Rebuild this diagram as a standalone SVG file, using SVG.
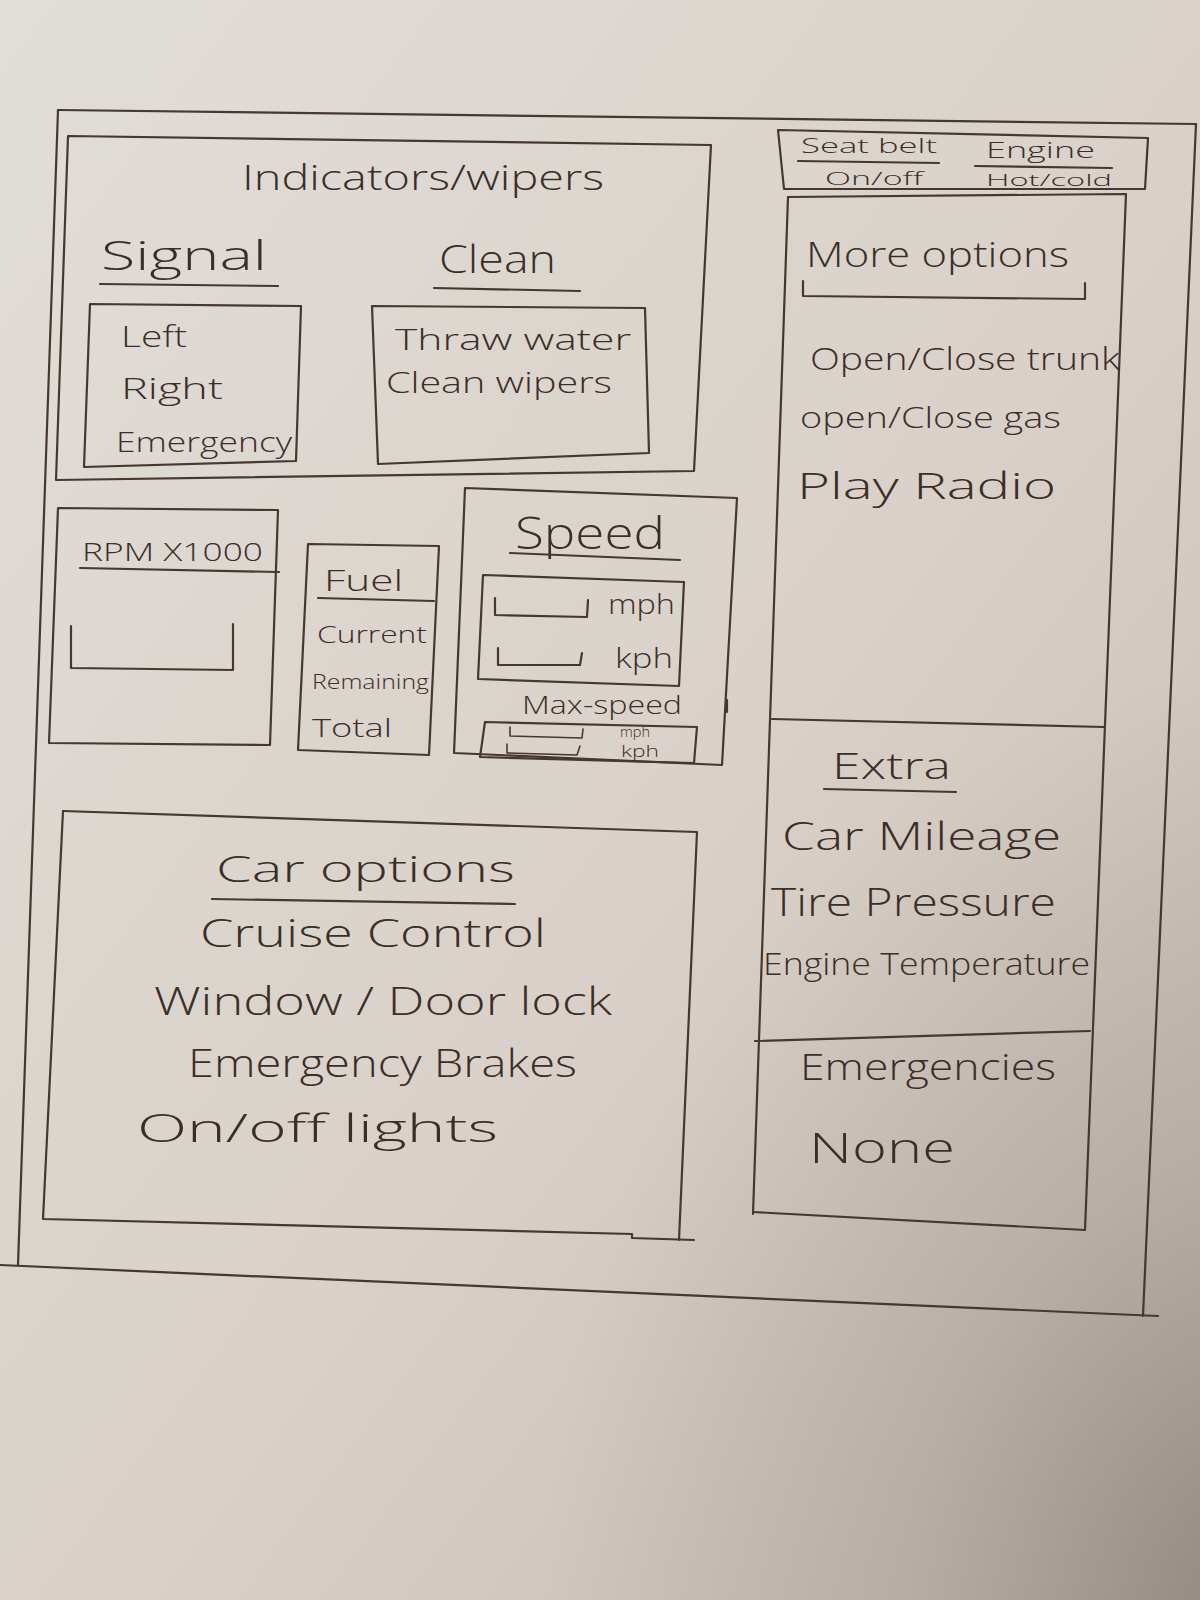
<svg xmlns="http://www.w3.org/2000/svg" width="1200" height="1600" viewBox="0 0 1200 1600">
  <defs>
    <linearGradient id="paper" x1="0" y1="0" x2="1" y2="1">
      <stop offset="0" stop-color="#e1ddd8"/>
      <stop offset="0.55" stop-color="#d9d1c9"/>
      <stop offset="1" stop-color="#c2b7ad"/>
    </linearGradient>
    <radialGradient id="shade" cx="1.05" cy="1.02" r="0.6">
      <stop offset="0" stop-color="#7f756d" stop-opacity="0.75"/>
      <stop offset="0.5" stop-color="#8f857c" stop-opacity="0.3"/>
      <stop offset="1" stop-color="#8f857c" stop-opacity="0"/>
    </radialGradient>
    <style>
      .ink { fill: none; stroke: #46372f; stroke-width: 2.2; stroke-linecap: round; stroke-linejoin: round; }
      .thin { fill: none; stroke: #46372f; stroke-width: 1.6; stroke-linecap: round; stroke-linejoin: round; }
      .t { font-family: "Open Sans", "Liberation Sans", sans-serif; font-weight: 300; fill: #3b2e27; }
    </style>
  </defs>

  <!-- paper -->
  <rect x="0" y="0" width="1200" height="1600" fill="url(#paper)"/>
  <rect x="0" y="0" width="1200" height="1600" fill="url(#shade)"/>

  <!-- outer dashboard frame -->
  <g id="frame">
    <path class="ink" d="M58 110 L1196 124"/>
    <path class="ink" d="M58 110 L18 1265"/>
    <path class="ink" d="M1196 124 L1143 1316"/>
    <path class="ink" d="M0 1265 L1158 1316"/>
  </g>

  <!-- indicators / wipers panel -->
  <g id="indicators">
    <path class="ink" d="M68 136 L711 145 L694 471 L56 480 Z"/>
    <text class="t" x="242" y="190" font-size="34" textLength="362" lengthAdjust="spacingAndGlyphs">Indicators/wipers</text>
    <g id="signal">
      <text class="t" x="101" y="270" font-size="40" textLength="166" lengthAdjust="spacingAndGlyphs">Signal</text>
      <path class="ink" d="M100 284 L278 286"/>
      <path class="ink" d="M90 304 L301 306 L296 461 L84 467 Z"/>
      <text class="t" x="121" y="347" font-size="30" textLength="66" lengthAdjust="spacingAndGlyphs">Left</text>
      <text class="t" x="121" y="399" font-size="30" textLength="102" lengthAdjust="spacingAndGlyphs">Right</text>
      <text class="t" x="116" y="452" font-size="27" textLength="176" lengthAdjust="spacingAndGlyphs">Emergency</text>
    </g>
    <g id="clean">
      <text class="t" x="439" y="273" font-size="38" textLength="117" lengthAdjust="spacingAndGlyphs">Clean</text>
      <path class="ink" d="M434 288 L580 291"/>
      <path class="ink" d="M372 306 L645 308 L649 453 L378 464 Z"/>
      <text class="t" x="395" y="350" font-size="30" textLength="236" lengthAdjust="spacingAndGlyphs">Thraw water</text>
      <text class="t" x="386" y="393" font-size="30" textLength="226" lengthAdjust="spacingAndGlyphs">Clean wipers</text>
    </g>
  </g>

  <!-- RPM gauge -->
  <g id="rpm">
    <path class="ink" d="M58 508 L278 510 L270 745 L49 743 Z"/>
    <text class="t" x="82" y="561" font-size="26" textLength="181" lengthAdjust="spacingAndGlyphs">RPM X1000</text>
    <path class="ink" d="M80 568 L279 572"/>
    <path class="ink" d="M71 626 L71 668 L233 670 L233 624"/>
  </g>

  <!-- fuel gauge -->
  <g id="fuel">
    <path class="ink" d="M308 544 L439 546 L429 755 L298 750 Z"/>
    <text class="t" x="324" y="591" font-size="30" textLength="79" lengthAdjust="spacingAndGlyphs">Fuel</text>
    <path class="ink" d="M318 598 L434 601"/>
    <text class="t" x="317" y="643" font-size="24" textLength="110" lengthAdjust="spacingAndGlyphs">Current</text>
    <text class="t" x="312" y="689" font-size="20" textLength="117" lengthAdjust="spacingAndGlyphs">Remaining</text>
    <text class="t" x="312" y="737" font-size="26" textLength="80" lengthAdjust="spacingAndGlyphs">Total</text>
  </g>

  <!-- speed gauge -->
  <g id="speed">
    <path class="ink" d="M465 488 L737 498 L722 765 L454 753 Z"/>
    <path class="ink" d="M727 700 L727 712"/>
    <text class="t" x="515" y="549" font-size="44" textLength="150" lengthAdjust="spacingAndGlyphs">Speed</text>
    <path class="ink" d="M510 553 L680 560"/>
    <path class="ink" d="M483 575 L684 582 L679 686 L478 679 Z"/>
    <path class="ink" d="M495 598 L495 615 L587 617 L588 600"/>
    <text class="t" x="608" y="614" font-size="28" textLength="67" lengthAdjust="spacingAndGlyphs">mph</text>
    <path class="ink" d="M498 648 L498 665 L580 665 L582 653"/>
    <text class="t" x="615" y="668" font-size="28" textLength="58" lengthAdjust="spacingAndGlyphs">kph</text>
    <text class="t" x="522" y="714" font-size="26" textLength="160" lengthAdjust="spacingAndGlyphs">Max-speed</text>
    <path class="ink" d="M485 722 L697 727 L694 763 L480 757 Z"/>
    <path class="thin" d="M510 727 L510 736 L582 738 L583 729"/>
    <path class="thin" d="M507 744 L507 753 L577 755 L580 746"/>
    <text class="t" x="620" y="737" font-size="14" textLength="30" lengthAdjust="spacingAndGlyphs">mph</text>
    <text class="t" x="621" y="757" font-size="16" textLength="38" lengthAdjust="spacingAndGlyphs">kph</text>
  </g>

  <!-- car options panel -->
  <g id="car-options">
    <path class="ink" d="M63 811 L697 832 L679 1240"/>
    <path class="ink" d="M63 811 L43 1219 L632 1234 L632 1238 L694 1240"/>
    <text class="t" x="216" y="882" font-size="36" textLength="299" lengthAdjust="spacingAndGlyphs">Car options</text>
    <path class="ink" d="M212 899 L515 904"/>
    <text class="t" x="200" y="947" font-size="38" textLength="346" lengthAdjust="spacingAndGlyphs">Cruise Control</text>
    <text class="t" x="154" y="1015" font-size="38" textLength="458" lengthAdjust="spacingAndGlyphs">Window / Door lock</text>
    <text class="t" x="188" y="1077" font-size="38" textLength="389" lengthAdjust="spacingAndGlyphs">Emergency Brakes</text>
    <text class="t" x="137" y="1142" font-size="38" textLength="361" lengthAdjust="spacingAndGlyphs">On/off lights</text>
  </g>

  <!-- warning lights strip -->
  <g id="warnings">
    <path class="ink" d="M778 130 L1148 138 L1145 189 L784 189 Z"/>
    <text class="t" x="801" y="153" font-size="20" textLength="136" lengthAdjust="spacingAndGlyphs">Seat belt</text>
    <path class="ink" d="M798 161 L939 163"/>
    <text class="t" x="825" y="185" font-size="18" textLength="98" lengthAdjust="spacingAndGlyphs">On/off</text>
    <text class="t" x="986" y="158" font-size="22" textLength="109" lengthAdjust="spacingAndGlyphs">Engine</text>
    <path class="ink" d="M975 166 L1112 168"/>
    <text class="t" x="986" y="186" font-size="17" textLength="126" lengthAdjust="spacingAndGlyphs">Hot/cold</text>
  </g>

  <!-- right column: more options / extra / emergencies -->
  <g id="right-column">
    <path class="ink" d="M788 197 L1126 194 L1085 1230"/>
    <path class="ink" d="M788 197 L753 1214"/>
    <path class="ink" d="M753 1212 L1085 1230"/>
    <g id="more-options">
      <text class="t" x="806" y="267" font-size="34" textLength="263" lengthAdjust="spacingAndGlyphs">More options</text>
      <path class="ink" d="M803 281 L803 296 L1085 299 L1085 283"/>
      <text class="t" x="810" y="370" font-size="32" textLength="310" lengthAdjust="spacingAndGlyphs">Open/Close trunk</text>
      <text class="t" x="800" y="428" font-size="30" textLength="261" lengthAdjust="spacingAndGlyphs">open/Close gas</text>
      <text class="t" x="797" y="499" font-size="36" textLength="259" lengthAdjust="spacingAndGlyphs">Play Radio</text>
    </g>
    <path class="ink" d="M772 719 L1104 727"/>
    <g id="extra">
      <text class="t" x="832" y="779" font-size="36" textLength="119" lengthAdjust="spacingAndGlyphs">Extra</text>
      <path class="ink" d="M824 789 L956 792"/>
      <text class="t" x="782" y="850" font-size="38" textLength="279" lengthAdjust="spacingAndGlyphs">Car Mileage</text>
      <text class="t" x="771" y="916" font-size="38" textLength="285" lengthAdjust="spacingAndGlyphs">Tire Pressure</text>
      <text class="t" x="763" y="975" font-size="32" textLength="327" lengthAdjust="spacingAndGlyphs">Engine Temperature</text>
    </g>
    <path class="ink" d="M755 1041 L1090 1031"/>
    <g id="emergencies">
      <text class="t" x="800" y="1080" font-size="36" textLength="256" lengthAdjust="spacingAndGlyphs">Emergencies</text>
      <text class="t" x="809" y="1163" font-size="42" textLength="146" lengthAdjust="spacingAndGlyphs">None</text>
    </g>
  </g>
</svg>
